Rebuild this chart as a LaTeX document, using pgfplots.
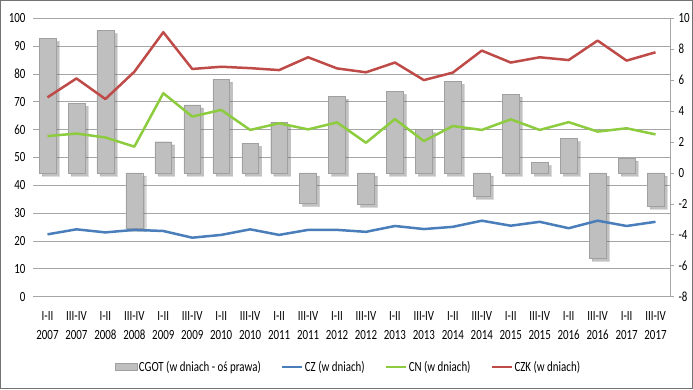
\documentclass[border=0pt]{standalone}
\usepackage{fontspec}
\setmainfont{Carlito}[FakeStretch=0.78]
\usepackage{pgfplots}
\pgfplotsset{compat=1.18}
\usetikzlibrary{shadows}
\definecolor{czblue}{HTML}{4A7EBB}
\definecolor{cngreen}{HTML}{8DCB3F}
\definecolor{czkred}{HTML}{BE4B48}
\definecolor{barfill}{HTML}{BFBFBF}
\definecolor{bardraw}{HTML}{A0A0A0}
\definecolor{gridc}{HTML}{A6A6A6}
\newcommand\lf{\fontsize{14}{19}\selectfont}
\newcommand\xf{\fontsize{14}{19}\selectfont}
\pgfplotsset{
  base/.style={at={(0pt,0pt)}, anchor=south west, width=637pt, height=278.4pt,
    scale only axis, xmin=-0.5, xmax=21.5,
    /pgf/number format/assume math mode=true,
    tick label style={font=\lf}},
  lineleg/.style={legend image code/.code={\draw[##1, line width=2pt] (0pt,0pt) -- (20pt,0pt);}},
  barleg/.style={legend image code/.code={\draw[fill=barfill, draw=bardraw] (0pt,-3.5pt) rectangle (22pt,3.5pt);}},
}
\begin{document}
\begin{tikzpicture}
% background: grid, left ticks, x labels
\begin{axis}[base, ymin=0, ymax=100, ytick={0,10,...,100},
  ymajorgrids, grid style={gridc, line width=0.8pt},
  axis line style={draw=none}, major tick length=0pt,
  xtick={0,...,21},
  xticklabels={{I-II\\2007},{III-IV\\2007},{I-II\\2008},{III-IV\\2008},{I-II\\2009},{III-IV\\2009},{I-II\\2010},{III-IV\\2010},{I-II\\2011},{III-IV\\2011},{I-II\\2012},{III-IV\\2012},{I-II\\2013},{III-IV\\2013},{I-II\\2014},{III-IV\\2014},{I-II\\2015},{III-IV\\2015},{I-II\\2016},{III-IV\\2016},{I-II\\2017},{III-IV\\2017}},
  xticklabel style={align=center, yshift=-11pt, font=\xf},
  yticklabel style={xshift=-4pt},
]
\addplot[draw=none] coordinates {(0,0)};
\end{axis}
% bars on right axis
\begin{axis}[base, ymin=-8, ymax=10, ytick={-8,-6,...,10},
  axis x line=none, axis y line*=right,
  axis line style={gridc, line width=0.8pt, -},
  tick style={gridc, line width=0.8pt}, tick align=outside, major tick length=4pt,
  yticklabel style={xshift=1pt},
]
\addplot[ybar, bar width=0.58, fill=barfill, draw=bardraw,
  drop shadow={shadow xshift=3pt, shadow yshift=-3pt, opacity=0.35, fill=black!70}]
coordinates {
(0,8.71) (1,4.5) (2,9.2) (3,-3.58) (4,2.02) (5,4.4) (6,6.06) (7,1.92) (8,3.28) (9,-1.96) (10,4.95)
(11,-2.02) (12,5.28) (13,2.8) (14,5.93) (15,-1.5) (16,5.1) (17,0.67) (18,2.22) (19,-5.5) (20,0.97) (21,-2.13)
};
\end{axis}
% lines on left axis
\begin{axis}[base, ymin=0, ymax=100, hide axis, lineleg,
  legend columns=4,
  legend style={draw=none, fill=none, font=\lf, at={(axis description cs:0.495,-0.2525)}, anchor=center,
    /tikz/every even column/.append style={column sep=18pt}},
]
\addlegendimage{barleg}
\addlegendentry{CGOT (w dniach - oś prawa)}
\addplot[czblue, line width=2.5pt, line join=round]
coordinates {
(0,22.4) (1,24.2) (2,23.1) (3,24.0) (4,23.6) (5,21.2) (6,22.2) (7,24.2) (8,22.2) (9,24.0) (10,24.0)
(11,23.3) (12,25.4) (13,24.3) (14,25.1) (15,27.3) (16,25.5) (17,26.9) (18,24.6) (19,27.3) (20,25.4) (21,26.9)
};
\addlegendentry{CZ (w dniach)}
\addplot[cngreen, line width=2.5pt, line join=round]
coordinates {
(0,57.7) (1,58.6) (2,57.2) (3,53.9) (4,73.1) (5,64.7) (6,67.1) (7,59.9) (8,62.3) (9,60.1) (10,62.6)
(11,55.3) (12,63.8) (13,55.9) (14,61.3) (15,59.9) (16,63.7) (17,59.9) (18,62.7) (19,59.3) (20,60.5) (21,58.3)
};
\addlegendentry{CN (w dniach)}
\addplot[czkred, line width=2.5pt, line join=round]
coordinates {
(0,71.6) (1,78.4) (2,71.0) (3,80.8) (4,95.0) (5,81.8) (6,82.6) (7,82.1) (8,81.4) (9,86.0) (10,82.0)
(11,80.6) (12,84.1) (13,77.8) (14,80.5) (15,88.4) (16,84.1) (17,86.0) (18,85.0) (19,92.0) (20,84.8) (21,87.8)
};
\addlegendentry{CZK (w dniach)}
\end{axis}
\pgfresetboundingbox
\useasboundingbox (-33pt,-92.3pt) rectangle (660pt,296.7pt);
\draw[gray!90!black, line width=1.5pt] (-32.25pt,-91.55pt) rectangle (659.25pt,295.95pt);
\end{tikzpicture}
\end{document}
